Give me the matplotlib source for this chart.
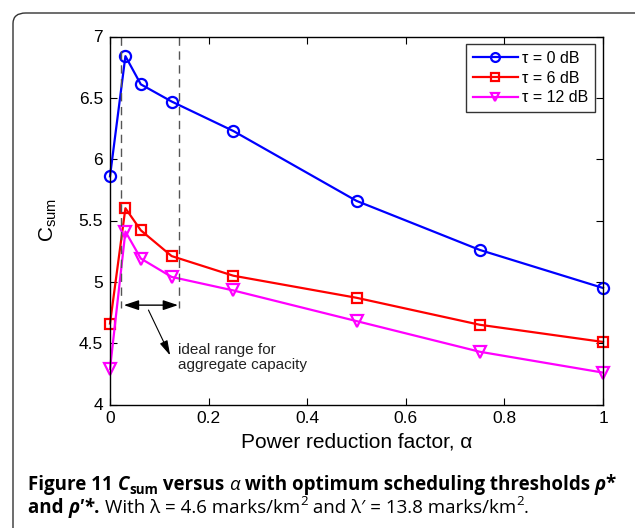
import matplotlib
matplotlib.use("Agg")
import matplotlib.pyplot as plt
from matplotlib.patches import FancyBboxPatch

plt.rcParams['font.family'] = ['Liberation Sans', 'DejaVu Sans']
plt.rcParams['mathtext.fontset'] = 'custom'
plt.rcParams['mathtext.rm'] = 'Liberation Sans'
plt.rcParams['mathtext.it'] = 'Liberation Sans:italic'
plt.rcParams['mathtext.bf'] = 'Liberation Sans:bold'

# ---- data ----
alpha = [0, 0.03125, 0.0625, 0.125, 0.25, 0.5, 0.75, 1.0]
c_tau0 = [5.86, 6.84, 6.61, 6.47, 6.23, 5.66, 5.26, 4.95]
c_tau6 = [4.66, 5.60, 5.42, 5.21, 5.05, 4.87, 4.65, 4.51]
c_tau12 = [4.29, 5.41, 5.19, 5.04, 4.93, 4.68, 4.43, 4.26]
series_labels = ['τ = 0 dB', 'τ = 6 dB', 'τ = 12 dB']
range_lo, range_hi = 0.022, 0.14
xticks = [0, 0.2, 0.4, 0.6, 0.8, 1.0]
xticklabels = ['0', '0.2', '0.4', '0.6', '0.8', '1']
yticks = [4, 4.5, 5, 5.5, 6, 6.5, 7]
yticklabels = ['4', '4.5', '5', '5.5', '6', '6.5', '7']

fig = plt.figure(figsize=(6.35, 5.28), dpi=100)

# rounded border
border = FancyBboxPatch((13 / 635, -0.05), 1.2, 1 - 13 / 528 + 0.05,
                        boxstyle="round,pad=0,rounding_size=0.02",
                        transform=fig.transFigure, fill=False,
                        edgecolor='#333333', linewidth=1.0)
fig.patches.append(border)

ax = fig.add_axes([110 / 635, 1 - 404.5 / 528, 493 / 635, 368 / 528])

lw = 1.6
ax.plot(alpha, c_tau0, color=(0, 0, 1), lw=lw, marker='o', ms=8,
        mfc='none', mew=1.6, label=series_labels[0], clip_on=False)
ax.plot(alpha, c_tau6, color=(1, 0, 0), lw=lw, marker='s', ms=7,
        mfc='none', mew=1.6, label=series_labels[1], clip_on=False)
ax.plot(alpha, c_tau12, color=(1, 0, 1), lw=lw, marker='v', ms=8,
        mfc='none', mew=1.6, label=series_labels[2], clip_on=False)

# dashed range lines
for xv in (range_lo, range_hi):
    ax.plot([xv, xv], [7, 4.79], color='#555555', lw=1.0, ls=(0, (6, 4)))

# double arrow
ax.annotate('', xy=(range_lo + 0.006, 4.81), xytext=(range_hi - 0.002, 4.81),
            arrowprops=dict(arrowstyle='<|-|>,head_length=0.9,head_width=0.3',
                            color='black', lw=1.0, shrinkA=0, shrinkB=0))
ax.annotate('', xy=(0.122, 4.40), xytext=(0.078, 4.77),
            arrowprops=dict(arrowstyle='-|>,head_length=0.9,head_width=0.25',
                            color='black', lw=0.8, shrinkA=0, shrinkB=0))
ax.text(0.138, 4.50, 'ideal range for\naggregate capacity', fontsize=11,
        va='top', ha='left', color='#222222', linespacing=1.05)

ax.set_xlim(0, 1)
ax.set_ylim(4, 7)
ax.set_xticks(xticks)
ax.set_xticklabels(xticklabels)
ax.set_yticks(yticks)
ax.set_yticklabels(yticklabels)
ax.tick_params(direction='in', top=True, right=True, length=5, width=0.8,
               labelsize=12.5, pad=5)
for s in ax.spines.values():
    s.set_linewidth(1.0)
ax.set_xlabel('Power reduction factor, α', fontsize=15, labelpad=4)
ax.set_ylabel(r'C$_{\mathrm{sum}}$', fontsize=15, labelpad=14)

leg = ax.legend(loc='upper right', fontsize=11.5, frameon=True, fancybox=False,
                edgecolor='black', handlelength=2.8, borderpad=0.4,
                labelspacing=0.3, handletextpad=0.3, borderaxespad=0.5,
                markerscale=0.8)
leg.get_frame().set_linewidth(1.0)

# ---- caption ----
cap_font = ['Open Sans', 'DejaVu Sans']
renderer = fig.canvas.get_renderer()


def width_of(s, props):
    t = fig.text(0, 0, s + '|', **props)
    w1 = t.get_window_extent(renderer).width
    t.remove()
    t = fig.text(0, 0, '|', **props)
    w2 = t.get_window_extent(renderer).width
    t.remove()
    return w1 - w2


def draw_runs(x_px, y_px, runs, size):
    for s, weight, style, scale, dy in runs:
        props = dict(family=cap_font, fontsize=size * scale, fontweight=weight,
                     fontstyle=style, color='black')
        fig.text(x_px / 635, (528 - y_px + dy * size * 100 / 72) / 528, s,
                 va='baseline', **props)
        x_px += width_of(s, props)
    return x_px


line1 = [('Figure 11 ', 'bold', 'normal', 1, 0),
         ('C', 'bold', 'italic', 1, 0),
         ('sum', 'bold', 'normal', 0.72, -0.22),
         (' versus ', 'bold', 'normal', 1, 0),
         ('α', 'normal', 'italic', 1, 0),
         (' with optimum scheduling thresholds ', 'bold', 'normal', 1, 0),
         ('ρ', 'bold', 'italic', 1, 0),
         ('*', 'bold', 'normal', 1, 0.05)]
line2 = [('and ', 'bold', 'normal', 1, 0),
         ('ρ′*', 'bold', 'italic', 1, 0),
         ('. ', 'bold', 'normal', 1, 0),
         ('With λ = 4.6 marks/km', 'normal', 'normal', 1, 0),
         ('2', 'normal', 'normal', 0.7, 0.4),
         (' and λ′ = 13.8 marks/km', 'normal', 'normal', 1, 0),
         ('2', 'normal', 'normal', 0.7, 0.4),
         ('.', 'normal', 'normal', 1, 0)]

# size caption so that first line spans the observed width
base = 12.0
w = 0
for s, weight, style, scale, dy in line1:
    w += width_of(s, dict(family=cap_font, fontsize=base * scale,
                          fontweight=weight, fontstyle=style))
size = base * 587 / w
draw_runs(28, 490, line1, size)
draw_runs(28, 513, line2, size)

fig.savefig('out.png', dpi=100)
